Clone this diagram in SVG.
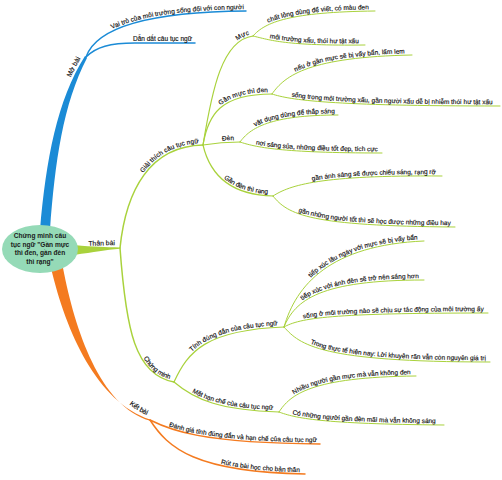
<svg xmlns="http://www.w3.org/2000/svg" xmlns:xlink="http://www.w3.org/1999/xlink" width="502" height="480" viewBox="0 0 502 480">
<style>
.t{font-family:"Liberation Sans","DejaVu Sans",Arial,sans-serif;font-size:6.5px;fill:#111;stroke:#111;stroke-width:0.15;text-anchor:end}
.tb{font-size:6.8px}
.c{font-family:"Liberation Sans","DejaVu Sans",Arial,sans-serif;font-size:6.6px;font-weight:bold;fill:#1a1a1a;text-anchor:middle}
.b{fill:none;stroke:#1b8bd6;stroke-linecap:round}
.g{fill:none;stroke:#a9d23c;stroke-linecap:round}
.o{fill:none;stroke:#f47b20;stroke-linecap:round}
.l2{stroke-width:1.5}
.l3{stroke-width:1.2}
.l4{stroke-width:1}
</style>
<defs>
<path id="pMB" d="M45,228 C50,160 60,100 86,57"/>
<path id="pB1" d="M86,57 C92,40 115,12 246,11"/>
<path id="pB2" d="M86,57 C96,47 110,43 135,43 L195,43"/>
<path id="pTB" d="M78,249 L120,248"/>
<path id="pGT" d="M120,248 C126,190 150,146 203,145"/>
<path id="pCM" d="M120,248 C126,330 135,375 174,382"/>
<path id="pMuc" d="M203,145 C212,90 222,40 253,36"/>
<path id="pMuc1" d="M253,36 C265,22 290,12 375,11"/>
<path id="pMuc2" d="M253,36 C270,40 285,46 365,45"/>
<path id="pGM" d="M203,145 C208,115 220,94 272,94"/>
<path id="pGM1" d="M272,94 C285,75 310,57 412,55"/>
<path id="pGM2" d="M272,94 C290,100 330,106 500,106"/>
<path id="pDen" d="M203,145 C215,143 228,142 240,142"/>
<path id="pDen1" d="M240,142 C250,128 270,115 338,115"/>
<path id="pDen2" d="M240,142 C255,147 280,153 382,153"/>
<path id="pGD" d="M203,145 C210,175 230,195 273,196"/>
<path id="pGD1" d="M273,196 C290,185 320,175 442,176"/>
<path id="pGD2" d="M273,196 C288,215 310,226 455,227"/>
<path id="pTD" d="M174,382 C188,352 205,330 284,327"/>
<path id="pTD1" d="M284,327 C296,285 330,245 424,241"/>
<path id="pTD2" d="M284,327 C295,300 320,280 424,280"/>
<path id="pTD3" d="M284,327 C300,318 330,313 488,313"/>
<path id="pTD4" d="M284,327 C300,345 320,362 490,362"/>
<path id="pHC" d="M174,382 C195,400 220,410 279,412"/>
<path id="pHC1" d="M279,412 C290,395 310,377 416,376"/>
<path id="pHC2" d="M279,412 C295,418 320,424 444,425"/>
<path id="pKB" d="M57,270 C71,330 100,402 150,420"/>
<path id="pKB1" d="M150,420 C170,430 200,443 320,444"/>
<path id="pKB2" d="M150,420 C168,448 195,472 305,474"/>
</defs>
<g id="connectors">
<path d="M40,230 C46,160 57,100 85,56 L87,58 C63,104 55,162 50,230 Z" fill="#1b8bd6"/>
<path d="M74,245 C95,247 105,247 120,247.5 L120,248.8 C105,250 95,252 74,255 Z" fill="#a9d23c"/>
<path d="M51,268 C66,332 97,402 150,419.5 L150,420.8 C100,406 75,330 63,268 Z" fill="#f47b20"/>
<use href="#pB1" class="b l2"/>
<use href="#pB2" class="b l2"/>
<use href="#pGT" class="g l2"/>
<use href="#pCM" class="g l2"/>
<use href="#pMuc" class="g l3"/>
<use href="#pMuc1" class="g l4"/>
<use href="#pMuc2" class="g l4"/>
<use href="#pGM" class="g l3"/>
<use href="#pGM1" class="g l4"/>
<use href="#pGM2" class="g l4"/>
<use href="#pDen" class="g l3"/>
<use href="#pDen1" class="g l4"/>
<use href="#pDen2" class="g l4"/>
<use href="#pGD" class="g l3"/>
<use href="#pGD1" class="g l4"/>
<use href="#pGD2" class="g l4"/>
<use href="#pTD" class="g l3"/>
<use href="#pTD1" class="g l4"/>
<use href="#pTD2" class="g l4"/>
<use href="#pTD3" class="g l4"/>
<use href="#pTD4" class="g l4"/>
<use href="#pHC" class="g l3"/>
<use href="#pHC1" class="g l4"/>
<use href="#pHC2" class="g l4"/>
<use href="#pKB1" class="o l2"/>
<use href="#pKB2" class="o l2"/>
</g>
<g id="center">
<ellipse cx="40" cy="249" rx="38" ry="24" fill="#95dab7"/>
<text class="c" x="40" y="238">Chứng minh câu</text>
<text class="c" x="40" y="246.5">tục ngữ "Gần mực</text>
<text class="c" x="40" y="255">thì đen, gần đèn</text>
<text class="c" x="40" y="263.5">thì rạng"</text>
</g>
<g id="mo-bai"><text class="t tb" dy="-4" dx="-4"><textPath href="#pMB" startOffset="100%">Mở bài</textPath></text></g>
<g id="vai-tro"><text class="t" dy="-1.8" dx="-2"><textPath href="#pB1" startOffset="100%">Vai trò của môi trường sống đối với con người</textPath></text></g>
<g id="dan-dat"><text class="t" dy="-1.8" dx="-3"><textPath href="#pB2" startOffset="100%">Dẫn dắt câu tục ngữ</textPath></text></g>
<g id="than-bai"><text class="t tb" dy="-3" dx="-5"><textPath href="#pTB" startOffset="100%">Thân bài</textPath></text></g>
<g id="giai-thich"><text class="t" dy="-2" dx="-4"><textPath href="#pGT" startOffset="100%">Giải thích câu tục ngữ</textPath></text></g>
<g id="muc"><text class="t" dy="-2" dx="-3"><textPath href="#pMuc" startOffset="100%">Mực</textPath></text></g>
<g id="muc-1"><text class="t" dy="-1.8" dx="-6"><textPath href="#pMuc1" startOffset="100%">chất lỏng dùng để viết, có màu đen</textPath></text></g>
<g id="muc-2"><text class="t" dy="-1.8" dx="-6"><textPath href="#pMuc2" startOffset="100%">môi trường xấu, thói hư tật xấu</textPath></text></g>
<g id="gan-muc"><text class="t" dy="-2" dx="-4"><textPath href="#pGM" startOffset="100%">Gần mực thì đen</textPath></text></g>
<g id="gan-muc-1"><text class="t" dy="-1.8" dx="-7"><textPath href="#pGM1" startOffset="100%">nếu ở gần mực sẽ bị vấy bẩn, lấm lem</textPath></text></g>
<g id="gan-muc-2"><text class="t" dy="-1.8" dx="-7"><textPath href="#pGM2" startOffset="100%">sống trong môi trường xấu, gần người xấu dễ bị nhiễm thói hư tật xấu</textPath></text></g>
<g id="den"><text class="t" dy="-2" dx="-6"><textPath href="#pDen" startOffset="100%">Đèn</textPath></text></g>
<g id="den-1"><text class="t" dy="-1.8" dx="-3"><textPath href="#pDen1" startOffset="100%">vật dụng dùng để thắp sáng</textPath></text></g>
<g id="den-2"><text class="t" dy="-1.8" dx="-4"><textPath href="#pDen2" startOffset="100%">nơi sáng sủa, những điều tốt đẹp, tích cực</textPath></text></g>
<g id="gan-den"><text class="t" dy="-2" dx="-5"><textPath href="#pGD" startOffset="100%">Gần đèn thì rạng</textPath></text></g>
<g id="gan-den-1"><text class="t" dy="-1.8" dx="-6"><textPath href="#pGD1" startOffset="100%">gần ánh sáng sẽ được chiếu sáng, rạng rỡ</textPath></text></g>
<g id="gan-den-2"><text class="t" dy="-1.8" dx="-4"><textPath href="#pGD2" startOffset="100%">gần những người tốt thì sẽ học được những điều hay</textPath></text></g>
<g id="chung-minh"><text class="t" dy="-2" dx="-5"><textPath href="#pCM" startOffset="100%">Chứng minh</textPath></text></g>
<g id="tinh-dung"><text class="t" dy="-2" dx="-6"><textPath href="#pTD" startOffset="100%">Tính đúng đắn của câu tục ngữ</textPath></text></g>
<g id="tinh-dung-1"><text class="t" dy="-1.8" dx="-6"><textPath href="#pTD1" startOffset="100%">tiếp xúc lâu ngày với mực sẽ bị vấy bẩn</textPath></text></g>
<g id="tinh-dung-2"><text class="t" dy="-1.8" dx="-5"><textPath href="#pTD2" startOffset="100%">tiếp xúc với ánh đèn sẽ trở nên sáng hơn</textPath></text></g>
<g id="tinh-dung-3"><text class="t" dy="-1.8" dx="-4"><textPath href="#pTD3" startOffset="100%">sống ở môi trường nào sẽ chịu sự tác động của môi trường ấy</textPath></text></g>
<g id="tinh-dung-4"><text class="t" dy="-1.8" dx="-4"><textPath href="#pTD4" startOffset="100%">Trong thực tế hiện nay: Lời khuyên răn vẫn còn nguyên giá trị</textPath></text></g>
<g id="han-che"><text class="t" dy="-2" dx="-6"><textPath href="#pHC" startOffset="100%">Mặt hạn chế của câu tục ngữ</textPath></text></g>
<g id="han-che-1"><text class="t" dy="-1.8" dx="-5"><textPath href="#pHC1" startOffset="100%">Nhiều người gần mực mà vẫn không đen</textPath></text></g>
<g id="han-che-2"><text class="t" dy="-1.8" dx="-8"><textPath href="#pHC2" startOffset="100%">Có những người gần đèn mãi mà vẫn không sáng</textPath></text></g>
<g id="ket-bai"><text class="t tb" dy="-3.5" dx="-5"><textPath href="#pKB" startOffset="100%">Kết bài</textPath></text></g>
<g id="danh-gia"><text class="t" dy="-1.8" dx="-3"><textPath href="#pKB1" startOffset="100%">Đánh giá tính đúng đắn và hạn chế của câu tục ngữ</textPath></text></g>
<g id="rut-ra"><text class="t" dy="-1.8" dx="-5"><textPath href="#pKB2" startOffset="100%">Rút ra bài học cho bản thân</textPath></text></g>
</svg>
